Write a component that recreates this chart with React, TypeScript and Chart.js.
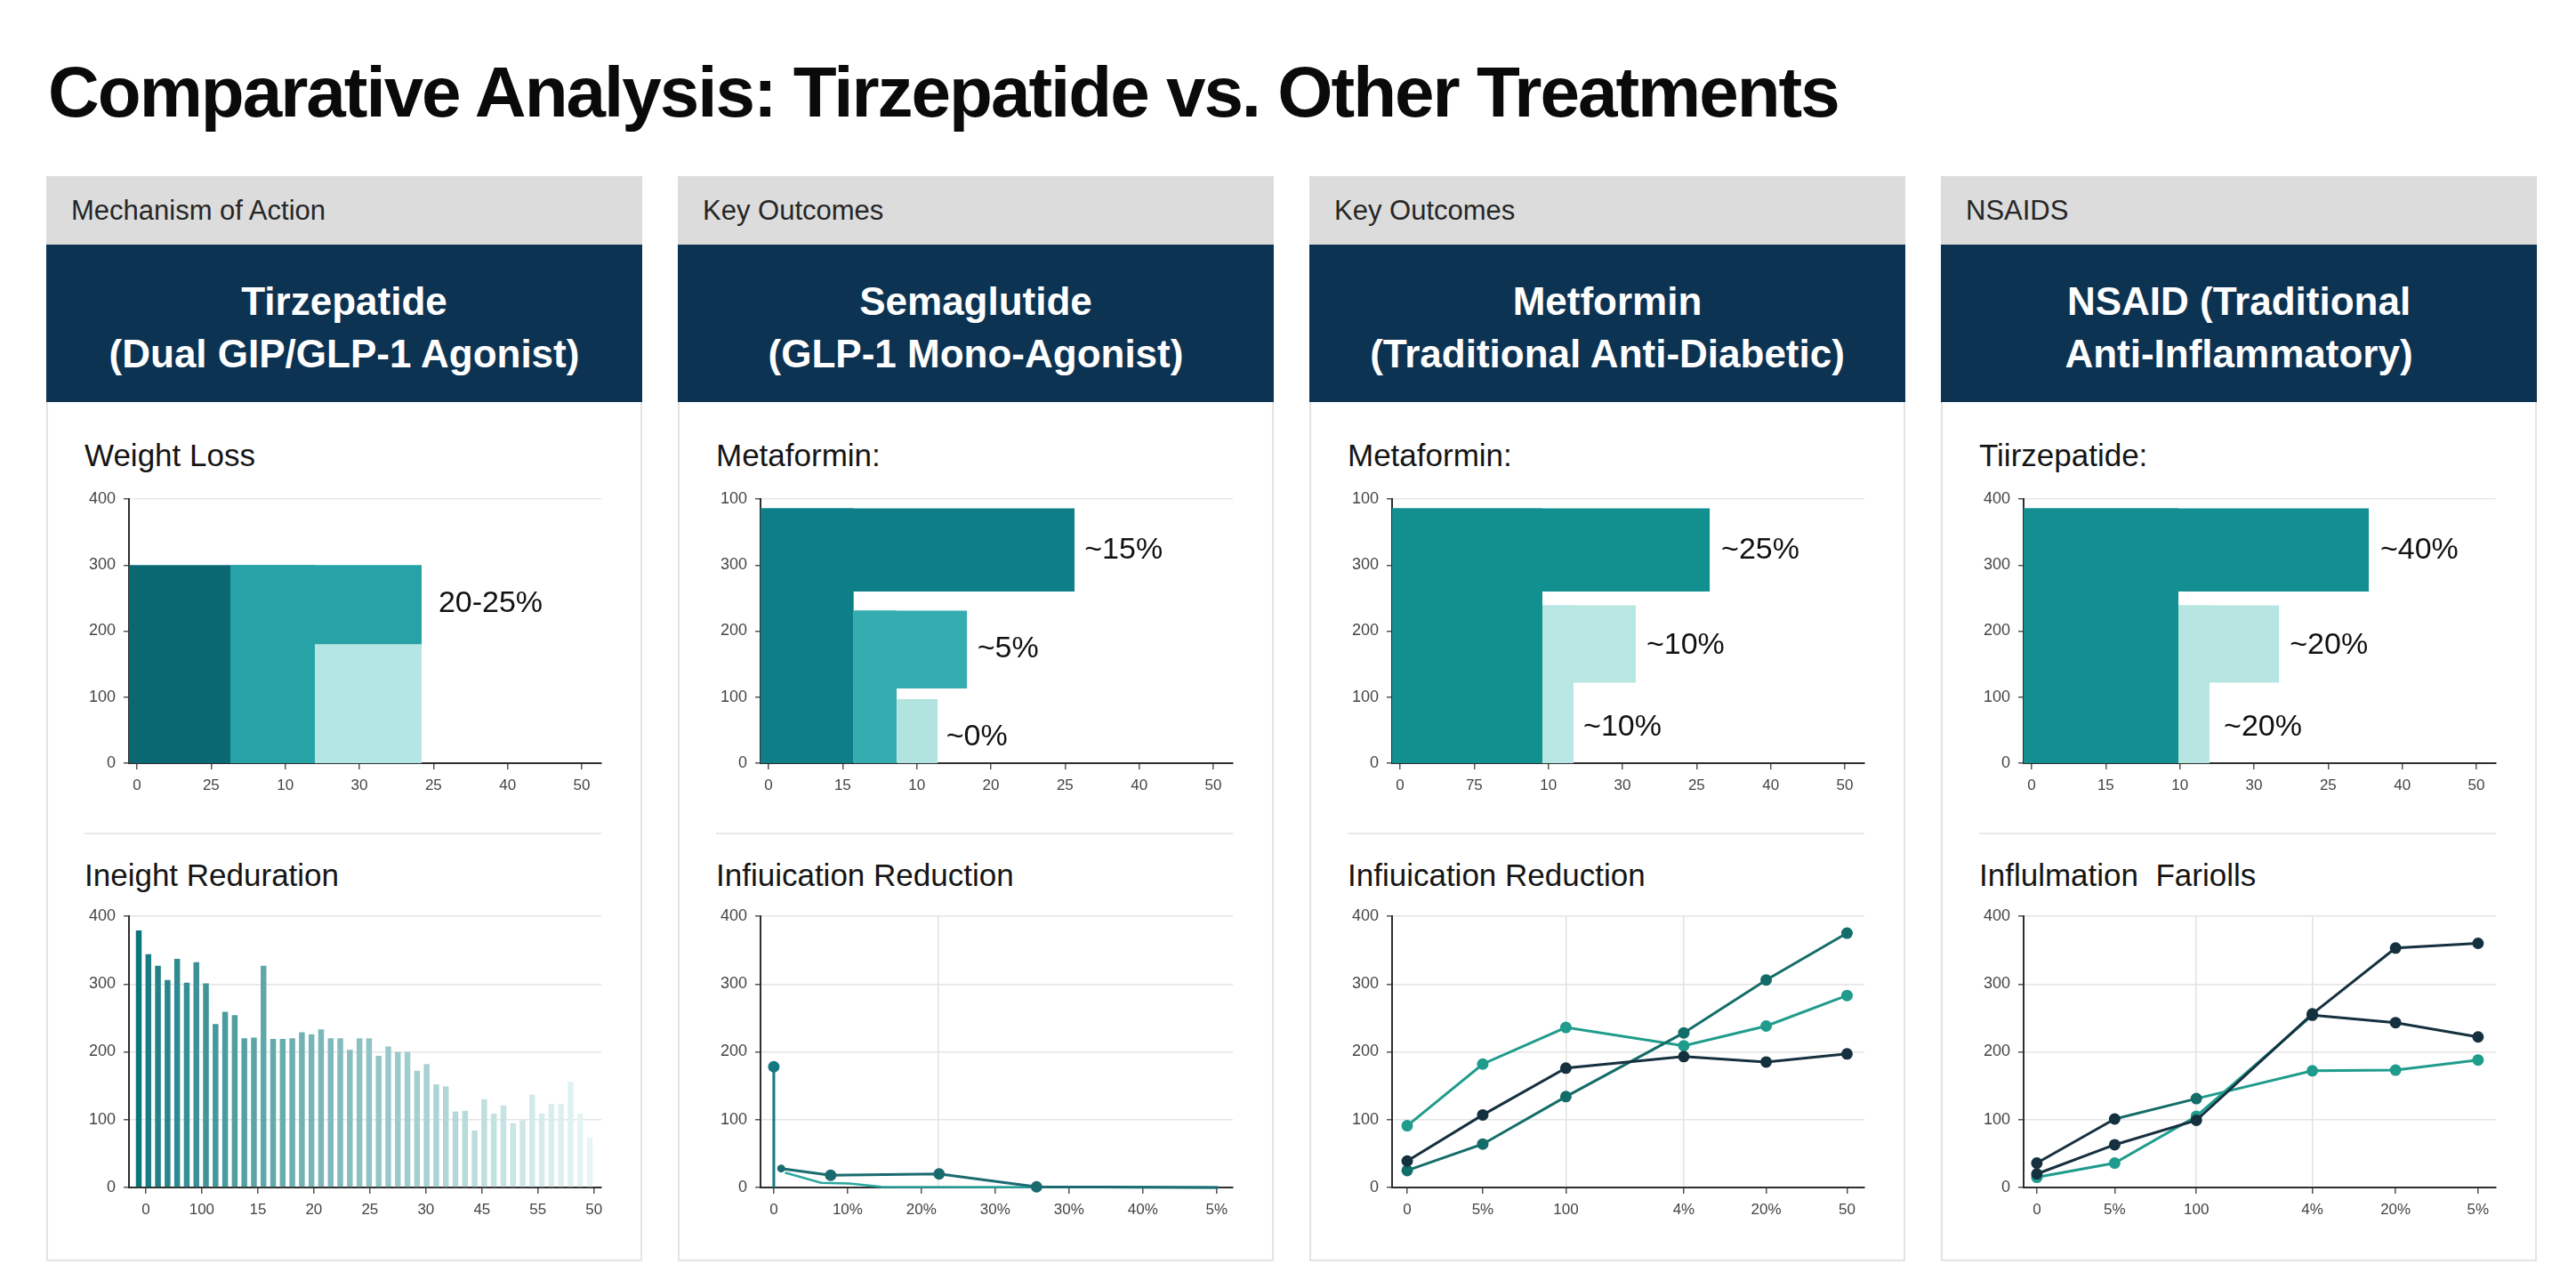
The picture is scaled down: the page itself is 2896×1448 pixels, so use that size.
import React, { useEffect, useRef } from 'react';
import { Chart, registerables } from 'chart.js';

Chart.register(...registerables);

const FONT = "'Liberation Sans', Arial, Helvetica, sans-serif";

// ---------------- text ----------------
const TITLE = 'Comparative Analysis: Tirzepatide vs. Other Treatments';
const PANEL_TAGS = ['Mechanism of Action', 'Key Outcomes', 'Key Outcomes', 'NSAIDS'];
const PANEL_NAMES = [
  ['Tirzepatide', '(Dual GIP/GLP-1 Agonist)'],
  ['Semaglutide', '(GLP-1 Mono-Agonist)'],
  ['Metformin', '(Traditional Anti-Diabetic)'],
  ['NSAID (Traditional', 'Anti-Inflammatory)'],
];
const TOP_HEADINGS = ['Weight Loss', 'Metaformin:', 'Metaformin:', 'Tiirzepatide:'];
const BOTTOM_HEADINGS = ['Ineight Reduration', 'Infiuication Reduction', 'Infiuication Reduction', 'Influlmation  Fariolls'];

// ---------------- top charts ----------------
const Y_TICKS = [0, 100, 200, 300, 400];
const TOP_Y_LABELS = [
  ['0', '100', '200', '300', '400'],
  ['0', '100', '200', '300', '100'],
  ['0', '100', '200', '300', '100'],
  ['0', '100', '200', '300', '400'],
];
const TOP_X_TICKS = [0, 1, 2, 3, 4, 5, 6];
const TOP_X_LABELS = [
  ['0', '25', '10', '30', '25', '40', '50'],
  ['0', '15', '10', '20', '25', '40', '50'],
  ['0', '75', '10', '30', '25', '40', '50'],
  ['0', '15', '10', '30', '25', '40', '50'],
];

// blocks: [x start, x end, value from, value to, shade]
const WEIGHT_LOSS_BLOCKS = [
  [-0.108, 1.26, 0, 300, 0],
  [1.26, 2.4, 0, 300, 1],
  [1.26, 3.84, 180, 300, 1],
  [2.4, 3.84, 0, 180, 2],
];
const SEMAGLUTIDE_BLOCKS = [
  [-0.108, 1.15, 0, 386, 0],
  [-0.108, 4.13, 260, 386, 0],
  [1.15, 1.73, 0, 231, 1],
  [1.15, 2.68, 113, 231, 1],
  [1.73, 2.28, 0, 97, 2],
];
const METFORMIN_BLOCKS = [
  [-0.108, 1.92, 0, 386, 0],
  [-0.108, 4.18, 260, 386, 0],
  [1.92, 2.34, 0, 239, 1],
  [1.92, 3.18, 122, 239, 1],
];
const NSAID_BLOCKS = [
  [-0.108, 1.98, 0, 386, 0],
  [-0.108, 4.55, 260, 386, 0],
  [1.98, 2.4, 0, 239, 1],
  [1.98, 3.34, 122, 239, 1],
];
const TOP_BLOCKS = [WEIGHT_LOSS_BLOCKS, SEMAGLUTIDE_BLOCKS, METFORMIN_BLOCKS, NSAID_BLOCKS];

const TOP_SHADES = [
  ['#0a6873', '#27a3a7', '#b4e6e3'],
  ['#0e7f88', '#35adb0', '#b1e4df'],
  ['#12908f', '#b8e7e3'],
  ['#138e91', '#b7e6e2'],
];

// notes: [text, x, value]
const WEIGHT_LOSS_NOTES = [['20-25%', 4.77, 242]];
const SEMAGLUTIDE_NOTES = [['~15%', 4.79, 322], ['~5%', 3.23, 173], ['~0%', 2.81, 40]];
const METFORMIN_NOTES = [['~25%', 4.86, 322], ['~10%', 3.85, 178], ['~10%', 3.0, 54]];
const NSAID_NOTES = [['~40%', 5.23, 322], ['~20%', 4.01, 178], ['~20%', 3.12, 54]];
const TOP_NOTES = [WEIGHT_LOSS_NOTES, SEMAGLUTIDE_NOTES, METFORMIN_NOTES, NSAID_NOTES];

// ---------------- bottom charts ----------------
const WEIGHT_REDUCTION = [
  379, 344, 327, 306, 337, 302, 332, 301, 241, 259, 254, 220, 221, 327, 219, 219,
  220, 229, 226, 233, 220, 220, 203, 220, 220, 194, 208, 200, 200, 172, 182, 152,
  149, 112, 113, 84, 130, 109, 121, 95, 99, 137, 109, 123, 123, 156, 109, 74,
];
const WEIGHT_REDUCTION_X_TICKS = [0, 1, 2, 3, 4, 5, 6, 7, 8];
const WEIGHT_REDUCTION_X_LABELS = ['0', '100', '15', '20', '25', '30', '45', '55', '50'];

const SEMA_X_TICKS = [0, 1, 2, 3, 4, 5, 6];
const SEMA_X_LABELS = ['0', '10%', '20%', '30%', '30%', '40%', '5%'];
const SEMA_GRID_X = [2.23];
const SEMA_SPIKE_X = [0, 0];
const SEMA_SPIKE_Y = [0, 178];
const SEMA_A_X = [0.1, 0.77, 2.24, 3.56, 6.02];
const SEMA_A_Y = [28, 18, 20, 1, 0];
const SEMA_B_X = [0.15, 0.64, 1.02, 1.46, 6.02];
const SEMA_B_Y = [22, 7, 6, 1, 0];

const METF_X_TICKS = [0, 1, 2.1, 3.66, 4.75, 5.82];
const METF_X_LABELS = ['0', '5%', '100', '4%', '20%', '50'];
const METF_GRID_X = [2.1, 3.66];
const METF_TEAL = [91, 182, 236, 209, 238, 283];
const METF_DARK = [25, 64, 134, 228, 306, 375];
const METF_NAVY = [39, 107, 176, 193, 185, 197];

const NSAID_X_TICKS = [0, 1, 2.05, 3.54, 4.61, 5.67];
const NSAID_X_LABELS = ['0', '5%', '100', '4%', '20%', '5%'];
const NSAID_GRID_X = [2.05, 3.54];
const NSAID_A = [36, 101, 131, 172, 173, 188];
const NSAID_B = [20, 63, 99, 256, 353, 360];
const NSAID_C = [15, 36, 105, 254, 243, 222];

// ---------------- layout ----------------
const PANEL_LEFTS = [52, 762, 1472, 2182];
const PANEL_W = 670;
const NAVY = '#0d3353';
const C_NAVY = '#15303f';
const C_DARKTEAL = '#136d68';
const C_TEAL = '#1f9c8c';

const CLEAR = 'rgba(0,0,0,0)';

function yScale(labels: string[], topOnly: boolean) {
  return {
    type: 'linear',
    min: 0,
    max: 400,
    afterBuildTicks: (s: any) => {
      s.ticks = Y_TICKS.map((v) => ({ value: v }));
    },
    afterFit: (s: any) => {
      s.width = 63;
    },
    ticks: {
      callback: (_v: any, i: number) => labels[i],
      color: '#444',
      font: { family: FONT, size: 18 },
      padding: 9,
    },
    grid: {
      color: (c: any) => {
        const v = c.tick ? c.tick.value : 0;
        if (topOnly) return v === 400 ? '#e8e8e8' : CLEAR;
        return v > 0 ? '#e4e4e4' : CLEAR;
      },
      lineWidth: 1.5,
      tickColor: '#555',
      tickLength: 6,
    },
    border: { color: '#2e2e2e', width: 2 },
  };
}

function xScale(min: number, max: number, ticks: number[], labels: string[], gridAt: number[], height: number) {
  const extra = gridAt.filter((g) => !ticks.includes(g));
  const all = [...ticks, ...extra];
  return {
    type: 'linear',
    min,
    max,
    offset: false,
    afterBuildTicks: (s: any) => {
      s.ticks = all.map((v) => ({ value: v }));
    },
    afterFit: (s: any) => {
      s.height = height;
    },
    ticks: {
      autoSkip: false,
      maxRotation: 0,
      callback: (_v: any, i: number) => (i < ticks.length ? labels[i] : ''),
      color: '#444',
      font: { family: FONT, size: 17 },
      padding: 8,
    },
    grid: {
      offset: false,
      color: (c: any) => (c.tick && gridAt.includes(c.tick.value) ? '#e2e2e2' : CLEAR),
      lineWidth: 1.5,
      tickColor: (c: any) => (c.index < ticks.length ? '#555' : CLEAR),
      tickLength: 7,
    },
    border: { color: '#2e2e2e', width: 2 },
  };
}

function notesPlugin(notes: any[]) {
  return {
    id: 'notes',
    afterDatasetsDraw(chart: any) {
      const { ctx, scales } = chart;
      ctx.save();
      ctx.font = `34px ${FONT}`;
      ctx.fillStyle = '#111';
      ctx.textAlign = 'center';
      ctx.textBaseline = 'middle';
      notes.forEach(([t, x, y]) => {
        ctx.fillText(t, scales.x.getPixelForValue(x), scales.y.getPixelForValue(y));
      });
      ctx.restore();
    },
  };
}

const BASE_OPTS = {
  animation: false,
  responsive: false,
  devicePixelRatio: 1,
  events: [],
  plugins: { legend: { display: false }, tooltip: { enabled: false } },
};

function topConfig(p: number) {
  const shades = TOP_SHADES[p];
  const datasets = TOP_BLOCKS[p].map(([x0, x1, y0, y1, s]) => ({
    type: 'line',
    data: [
      { x: x0, y: y1 },
      { x: x1, y: y1 },
    ],
    fill: y0 === 0 ? 'origin' : { value: y0 },
    backgroundColor: shades[s],
    borderColor: shades[s],
    borderWidth: 0,
    pointRadius: 0,
  }));
  return {
    type: 'line',
    data: { datasets },
    options: {
      ...BASE_OPTS,
      layout: { padding: { top: 21, right: 16, left: 0, bottom: 0 } },
      scales: {
        x: xScale(-0.108, 6.264, TOP_X_TICKS, TOP_X_LABELS[p], [], 40),
        y: yScale(TOP_Y_LABELS[p], true),
      },
    },
    plugins: [notesPlugin(TOP_NOTES[p])],
  };
}

function barShade(i: number, n: number) {
  const t = Math.pow(i / (n - 1), 0.75);
  const a = [13, 118, 124];
  const b = [230, 246, 245];
  const c = a.map((v, k) => Math.round(v + (b[k] - v) * t));
  return `rgb(${c[0]},${c[1]},${c[2]})`;
}

function weightReductionConfig() {
  const n = WEIGHT_REDUCTION.length;
  return {
    type: 'bar',
    data: {
      datasets: [
        {
          type: 'bar',
          xAxisID: 'xb',
          yAxisID: 'y',
          data: WEIGHT_REDUCTION.map((v, i) => ({ x: i + 1, y: v })),
          backgroundColor: WEIGHT_REDUCTION.map((_v, i) => barShade(i, n)),
          barPercentage: 0.6,
          categoryPercentage: 1,
        },
      ],
    },
    options: {
      ...BASE_OPTS,
      layout: { padding: { top: 20, right: 16, left: 0, bottom: 0 } },
      scales: {
        xb: { type: 'linear', display: false, offset: false, grid: { offset: false }, min: -0.02, max: 49.2 },
        x: xScale(-0.3, 8.13, WEIGHT_REDUCTION_X_TICKS, WEIGHT_REDUCTION_X_LABELS, [], 45),
        y: yScale(['0', '100', '200', '300', '400'], false),
      },
    },
  };
}

function lineSet(xs: number[], ys: number[], color: any, opts: any = {}) {
  return {
    type: 'line',
    data: xs.map((x, i) => ({ x, y: ys[i] })),
    borderColor: color,
    backgroundColor: color,
    pointBackgroundColor: color,
    pointBorderColor: color,
    borderWidth: 3,
    pointRadius: 5,
    fill: false,
    tension: 0,
    clip: 10,
    ...opts,
  };
}

function lineConfig(datasets: any[], xs: any) {
  return {
    type: 'line',
    data: { datasets },
    options: {
      ...BASE_OPTS,
      layout: { padding: { top: 20, right: 16, left: 0, bottom: 0 } },
      scales: {
        x: xs,
        y: yScale(['0', '100', '200', '300', '400'], false),
      },
    },
  };
}

function semaConfig() {
  return lineConfig(
    [
      lineSet(SEMA_SPIKE_X, SEMA_SPIKE_Y, '#157983', { pointRadius: [0, 5], borderWidth: 3 }),
      lineSet(SEMA_A_X, SEMA_A_Y, '#1a6b70', { pointRadius: [3, 5, 5, 5, 0] }),
      lineSet(SEMA_B_X, SEMA_B_Y, '#2aa8a0', { pointRadius: 0, borderWidth: 2.5 }),
    ],
    xScale(-0.18, 6.22, SEMA_X_TICKS, SEMA_X_LABELS, SEMA_GRID_X, 45),
  );
}

function metfConfig() {
  return lineConfig(
    [
      lineSet(METF_X_TICKS, METF_NAVY, C_NAVY),
      lineSet(METF_X_TICKS, METF_DARK, C_DARKTEAL),
      lineSet(METF_X_TICKS, METF_TEAL, C_TEAL),
    ],
    xScale(-0.2, 6.05, METF_X_TICKS, METF_X_LABELS, METF_GRID_X, 45),
  );
}

const NSAID_A_COLORS = [C_NAVY, C_NAVY, C_DARKTEAL, C_TEAL, C_TEAL, C_TEAL];
const NSAID_C_COLORS = [C_TEAL, C_TEAL, C_TEAL, C_NAVY, C_NAVY, C_NAVY];

function nsaidConfig() {
  return lineConfig(
    [
      lineSet(NSAID_X_TICKS, NSAID_B, C_NAVY),
      lineSet(NSAID_X_TICKS, NSAID_C, NSAID_C_COLORS, {
        borderColor: C_TEAL,
        segment: { borderColor: (c: any) => NSAID_C_COLORS[c.p0DataIndex] },
      }),
      lineSet(NSAID_X_TICKS, NSAID_A, NSAID_A_COLORS, {
        borderColor: C_TEAL,
        segment: { borderColor: (c: any) => NSAID_A_COLORS[c.p1DataIndex] },
      }),
    ],
    xScale(-0.17, 5.9, NSAID_X_TICKS, NSAID_X_LABELS, NSAID_GRID_X, 45),
  );
}

const BOTTOM_BUILDERS = [weightReductionConfig, semaConfig, metfConfig, nsaidConfig];

function ChartCanvas({ left, top, width, height, build }: any) {
  const ref = useRef<HTMLCanvasElement>(null);
  useEffect(() => {
    const chart = new Chart(ref.current as HTMLCanvasElement, build() as any);
    return () => chart.destroy();
  }, []);
  return (
    <canvas
      ref={ref}
      width={width}
      height={height}
      style={{ position: 'absolute', left, top, width, height }}
    />
  );
}

function Panel({ p }: { p: number }) {
  const left = PANEL_LEFTS[p];
  return (
    <>
      <div
        style={{
          position: 'absolute',
          left,
          top: 198,
          width: PANEL_W,
          height: 1220,
          border: '2px solid #e3e3e3',
          boxSizing: 'border-box',
          background: '#fff',
        }}
      />
      <div
        style={{
          position: 'absolute',
          left,
          top: 198,
          width: PANEL_W,
          height: 77,
          background: '#dcdcdc',
          boxSizing: 'border-box',
          paddingLeft: 28,
          lineHeight: '77px',
          fontFamily: FONT,
          fontSize: 31,
          color: '#262626',
        }}
      >
        {PANEL_TAGS[p]}
      </div>
      <div
        style={{
          position: 'absolute',
          left,
          top: 275,
          width: PANEL_W,
          height: 177,
          background: NAVY,
          color: '#fff',
          fontFamily: FONT,
          fontWeight: 700,
          fontSize: 44,
          lineHeight: '59px',
          display: 'flex',
          flexDirection: 'column',
          justifyContent: 'center',
          alignItems: 'center',
          paddingTop: 8,
          boxSizing: 'border-box',
          textAlign: 'center',
        }}
      >
        <div>{PANEL_NAMES[p][0]}</div>
        <div>{PANEL_NAMES[p][1]}</div>
      </div>
      <div
        style={{
          position: 'absolute',
          left: left + 43,
          top: 492,
          fontFamily: FONT,
          fontSize: 35,
          lineHeight: '40px',
          color: '#151515',
          whiteSpace: 'pre',
        }}
      >
        {TOP_HEADINGS[p]}
      </div>
      <ChartCanvas left={left + 30} top={540} width={610} height={358} build={() => topConfig(p)} />
      <div
        style={{
          position: 'absolute',
          left: left + 43,
          top: 936,
          width: 581,
          height: 2,
          background: '#e8e8e8',
        }}
      />
      <div
        style={{
          position: 'absolute',
          left: left + 43,
          top: 964,
          fontFamily: FONT,
          fontSize: 35,
          lineHeight: '40px',
          color: '#151515',
          whiteSpace: 'pre',
        }}
      >
        {BOTTOM_HEADINGS[p]}
      </div>
      <ChartCanvas left={left + 30} top={1010} width={610} height={370} build={BOTTOM_BUILDERS[p]} />
    </>
  );
}

export default function App() {
  return (
    <div
      style={{
        position: 'absolute',
        left: 0,
        top: 0,
        width: 2896,
        height: 1448,
        background: '#ffffff',
        overflow: 'hidden',
      }}
    >
      <div
        style={{
          position: 'absolute',
          left: 54,
          top: 64,
          fontFamily: FONT,
          fontWeight: 700,
          fontSize: 80,
          lineHeight: '80px',
          letterSpacing: '-2px',
          color: '#0a0a0a',
          whiteSpace: 'nowrap',
        }}
      >
        {TITLE}
      </div>
      {[0, 1, 2, 3].map((p) => (
        <Panel key={p} p={p} />
      ))}
    </div>
  );
}
